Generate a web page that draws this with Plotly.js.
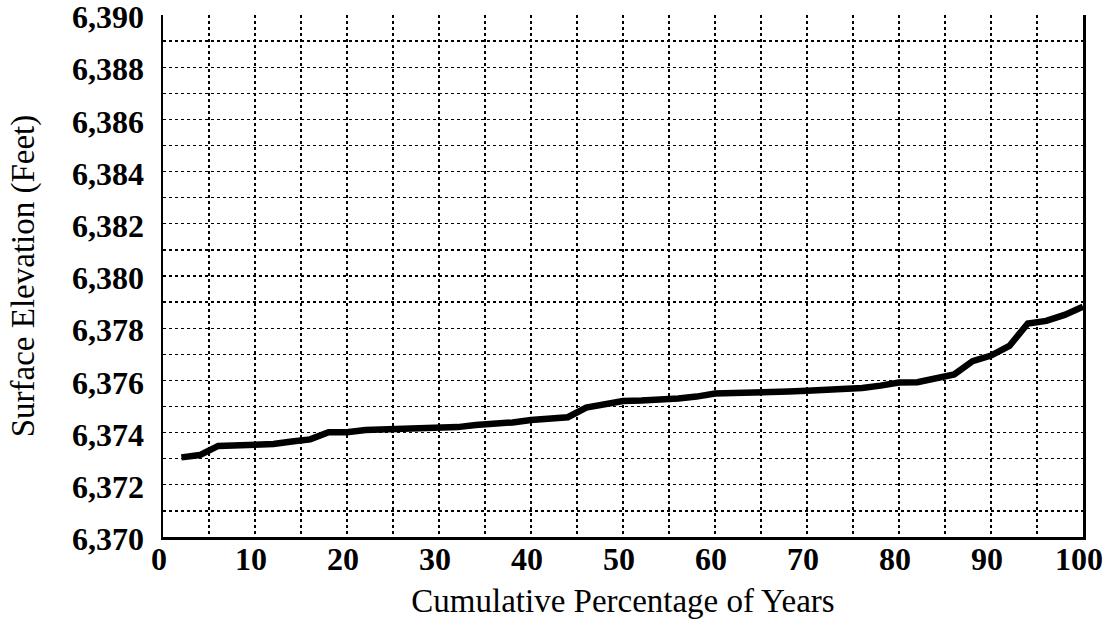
<!DOCTYPE html>
<html>
<head>
<meta charset="utf-8">
<script src="https://cdn.plot.ly/plotly-3.0.1.min.js"></script>
<style>html,body{margin:0;padding:0;background:#fff;}#chart{width:1107px;height:626px;}</style>
</head>
<body>
<div id="chart"></div>
<script>
const cumulativePercent = [2,4,6,8,10,12,14,16,18,20,22,24,26,28,30,32,34,36,38,40,42,44,46,48,50,52,54,56,58,60,62,64,66,68,70,72,74,76,78,80,82,84,86,88,90,92,94,96,98,100];
const surfaceElevation = [6373.05,6373.14,6373.49,6373.50,6373.50,6373.56,6373.66,6373.74,6374.01,6374.01,6374.10,6374.12,6374.14,6374.14,6374.14,6374.21,6374.29,6374.31,6374.39,6374.48,6374.54,6374.59,6374.96,6375.11,6375.21,6375.23,6375.25,6375.31,6375.38,6375.50,6375.52,6375.52,6375.54,6375.57,6375.60,6375.63,6375.67,6375.71,6375.80,6375.92,6375.93,6376.07,6376.23,6376.74,6376.95,6377.32,6378.18,6378.28,6378.51,6378.82];
const xTickVals = [0,10,20,30,40,50,60,70,80,90,100];
const yTickVals = [6370,6372,6374,6376,6378,6380,6382,6384,6386,6388,6390];
const yTickText = ["6,370","6,372","6,374","6,376","6,378","6,380","6,382","6,384","6,386","6,388","6,390"];

const serif = "'Liberation Serif', 'Times New Roman', serif";

const trace = {
  x: cumulativePercent,
  y: surfaceElevation,
  type: 'scatter',
  mode: 'lines',
  line: {color: '#000', width: 6.5},
  hoverinfo: 'skip'
};

const layout = {
  width: 1107, height: 626,
  margin: {l: 163, r: 24, t: 15, b: 89},
  paper_bgcolor: '#fff', plot_bgcolor: '#fff',
  showlegend: false,
  xaxis: {
    range: [0, 100],
    tickvals: xTickVals,
    ticks: '',
    showline: true, linecolor: '#000', linewidth: 2.5,
    showgrid: true, gridcolor: '#000', gridwidth: 1.3, griddash: 'dot',
    minor: {dtick: 5, showgrid: true, gridcolor: '#000', gridwidth: 1.3, griddash: 'dot'},
    zeroline: false,
    ticklabelstandoff: -8,
    ticklabelshift: -4,
    ticklabeloverflow: 'allow',
    tickfont: {family: serif, size: 32, color: '#000', weight: 'bold'},
    title: {text: 'Cumulative Percentage of Years', font: {family: serif, size: 33, color: '#000'}, standoff: 13}
  },
  yaxis: {
    range: [6370, 6390],
    tickvals: yTickVals,
    ticktext: yTickText,
    ticks: '',
    showline: true, linecolor: '#000', linewidth: 2.5, mirror: true,
    showgrid: true, gridcolor: '#000', gridwidth: 1.3, griddash: 'dot',
    minor: {dtick: 1, showgrid: true, gridcolor: '#000', gridwidth: 1.3, griddash: 'dot'},
    zeroline: false,
    ticklabelstandoff: 10,
    ticklabelshift: 2,
    ticklabeloverflow: 'allow',
    tickfont: {family: serif, size: 32, color: '#000', weight: 'bold'},
    title: {text: 'Surface Elevation (Feet)', font: {family: serif, size: 33, color: '#000'}, standoff: 28}
  }
};

Plotly.newPlot('chart', [trace], layout, {staticPlot: true, displayModeBar: false});
</script>
</body>
</html>
